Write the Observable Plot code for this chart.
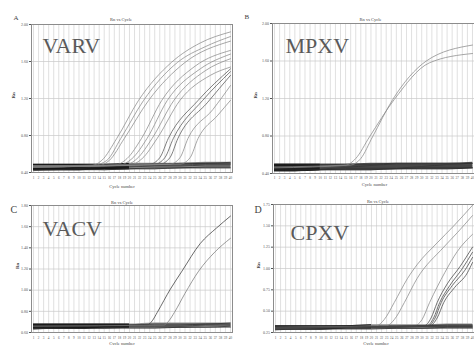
<!DOCTYPE html>
<html><head><meta charset="utf-8">
<script src="https://cdn.jsdelivr.net/npm/d3@7"></script>
<script src="https://cdn.jsdelivr.net/npm/@observablehq/plot@0.6"></script>
<style>
html,body{margin:0;padding:0;background:#fff;}
#wrap{position:relative;width:474px;height:345px;overflow:hidden;background:#fff;}
.panel{position:absolute;}
</style></head><body><div id="wrap"></div>
<script>
// ---------- shared ----------
const cycleTicks = [1,2,3,4,5,6,7,8,9,10,11,12,13,14,15,16,17,18,19,20,21,22,23,24,25,26,27,28,29,30,31,32,33,34,35,36,37,38,39,40];
const baseCycles = [1,5,10,15,20,25,30,35,40];
const titleText = "Rn vs Cycle";
const xLabelText = "Cycle number";
const yLabelText = "Rn";

// ---------- A: VARV ----------
const varvTicks = [0.40,0.80,1.20,1.60,2.00];
const varvBandLo = [0.42,0.42,0.42,0.43,0.43,0.43,0.44,0.44,0.44];
const varvBandHi = [0.49,0.49,0.49,0.49,0.50,0.50,0.50,0.51,0.51];
const varvBaselines = [
  [0.43,0.43,0.44,0.43,0.44,0.45,0.45,0.46,0.46],
  [0.45,0.46,0.45,0.46,0.46,0.47,0.47,0.48,0.48],
  [0.46,0.46,0.47,0.47,0.47,0.48,0.48,0.49,0.49],
  [0.47,0.47,0.47,0.48,0.48,0.48,0.49,0.50,0.50],
  [0.48,0.48,0.48,0.48,0.49,0.49,0.50,0.50,0.51],
  [0.42,0.43,0.43,0.43,0.44,0.44,0.45,0.45,0.45]
];
const varvCurves = [
  [[1,0.46],[12,0.47],[14.5,0.53],[17.5,0.77],[21.8,1.18],[28.3,1.59],[34,1.80],[40,1.92]],
  [[1,0.47],[13,0.48],[15.5,0.53],[18.3,0.77],[22.8,1.18],[29.5,1.59],[35,1.76],[40,1.87]],
  [[1,0.46],[13.5,0.47],[16,0.53],[19,0.77],[23.8,1.18],[31,1.59],[40,1.82]],
  [[1,0.47],[17,0.48],[19.5,0.55],[22.4,0.77],[26.4,1.18],[33,1.55],[40,1.72]],
  [[1,0.46],[18,0.48],[20.5,0.55],[23.5,0.77],[27.5,1.18],[34,1.52],[40,1.68]],
  [[1,0.47],[19,0.48],[21.5,0.55],[24.5,0.77],[28.8,1.18],[35,1.50],[40,1.63]],
  [[1,0.46],[20,0.48],[22.5,0.55],[25.5,0.77],[30,1.18],[36,1.45],[40,1.54]],
  [[1,0.47],[24,0.49],[26,0.56],[27.7,0.77],[33.6,1.18],[40,1.52]],
  [[1,0.46],[25,0.49],[27,0.56],[28.7,0.77],[34.5,1.18],[40,1.49]],
  [[1,0.47],[26,0.49],[28,0.56],[29.6,0.77],[35.5,1.16],[40,1.45]],
  [[1,0.46],[28,0.49],[30,0.56],[31.6,0.77],[36.5,1.08],[40,1.34]],
  [[1,0.47],[30,0.49],[32,0.56],[33.6,0.77],[37.5,1.02],[40,1.18]]
];

// ---------- B: MPXV ----------
const mpxvTicks = [0.40,0.80,1.20,1.60,2.00];
const mpxvBandLo = [0.42,0.42,0.43,0.43,0.43,0.44,0.44,0.44,0.45];
const mpxvBandHi = [0.50,0.50,0.50,0.50,0.51,0.51,0.51,0.51,0.52];
const mpxvBaselines = [
  [0.43,0.43,0.44,0.44,0.44,0.45,0.45,0.45,0.46],
  [0.45,0.45,0.45,0.46,0.46,0.46,0.47,0.47,0.47],
  [0.47,0.46,0.47,0.47,0.48,0.48,0.48,0.49,0.49],
  [0.48,0.48,0.49,0.49,0.49,0.50,0.50,0.50,0.51],
  [0.50,0.50,0.50,0.50,0.50,0.51,0.51,0.51,0.51],
  [0.44,0.44,0.44,0.45,0.45,0.45,0.46,0.46,0.46]
];
const mpxvCurves = [
  [[1,0.47],[15,0.49],[17,0.56],[19.7,0.79],[24.6,1.19],[31.5,1.58],[40,1.68]],
  [[1,0.46],[16,0.49],[18,0.56],[20.3,0.79],[24.3,1.19],[30.9,1.60],[40,1.77]]
];

// ---------- C: VACV ----------
const vacvTicks = [0.60,0.80,1.00,1.20,1.40,1.60,1.80];
const vacvBandLo = [0.63,0.63,0.63,0.64,0.64,0.64,0.64,0.65,0.65];
const vacvBandHi = [0.68,0.68,0.68,0.68,0.68,0.69,0.69,0.69,0.69];
const vacvBaselines = [
  [0.64,0.64,0.64,0.64,0.65,0.65,0.65,0.65,0.66],
  [0.65,0.65,0.66,0.65,0.66,0.66,0.66,0.67,0.67],
  [0.66,0.66,0.66,0.67,0.67,0.67,0.67,0.68,0.68],
  [0.67,0.67,0.67,0.67,0.67,0.68,0.68,0.68,0.69],
  [0.63,0.64,0.64,0.64,0.64,0.64,0.65,0.65,0.65]
];
const vacvCurves = [
  [[1,0.66],[23.5,0.67],[24.5,0.71],[25.5,0.79],[28.1,1.01],[30.4,1.18],[34,1.44],[37.3,1.59],[40,1.70]],
  [[1,0.66],[26.8,0.67],[27.8,0.71],[28.9,0.79],[31,0.97],[33.7,1.18],[36.9,1.36],[40,1.49]]
];

// ---------- D: CPXV ----------
const cpxvTicks = [0.25,0.50,0.75,1.00,1.25,1.50,1.75];
const cpxvBandLo = [0.28,0.28,0.28,0.29,0.29,0.29,0.29,0.30,0.30];
const cpxvBandHi = [0.33,0.33,0.33,0.33,0.34,0.34,0.34,0.35,0.35];
const cpxvBaselines = [
  [0.29,0.29,0.29,0.30,0.30,0.30,0.30,0.31,0.31],
  [0.30,0.31,0.30,0.31,0.31,0.31,0.32,0.32,0.32],
  [0.31,0.31,0.32,0.32,0.32,0.32,0.33,0.33,0.33],
  [0.32,0.32,0.32,0.33,0.33,0.33,0.33,0.34,0.34],
  [0.28,0.29,0.29,0.29,0.29,0.30,0.30,0.30,0.30]
];
const cpxvCurves = [
  [[1,0.31],[21,0.33],[22.5,0.40],[24.5,0.60],[27.1,0.88],[29.1,1.05],[33,1.30],[36.3,1.50],[40,1.74]],
  [[1,0.30],[23,0.33],[24.5,0.40],[26.5,0.60],[29,0.88],[34.3,1.25],[37,1.42],[40,1.62]],
  [[1,0.31],[28.5,0.33],[30,0.40],[31.5,0.60],[34.5,0.95],[37,1.20],[40,1.40]],
  [[1,0.30],[30.5,0.33],[31.8,0.42],[33,0.60],[35,0.82],[37.5,1.02],[40,1.25]],
  [[1,0.31],[31,0.33],[32.3,0.42],[33.5,0.60],[35.5,0.80],[38,1.00],[40,1.19]],
  [[1,0.30],[31.3,0.33],[32.6,0.42],[33.8,0.60],[36,0.80],[38.5,0.98],[40,1.13]],
  [[1,0.31],[31.6,0.33],[33,0.42],[34.3,0.60],[36.5,0.78],[39,0.95],[40,1.07]]
];

// ---------- drawing ----------
const FONT = "Liberation Serif, Times New Roman, serif";
function panel(cfg, data) {
  const {ticks, bandLo, bandHi, darkUntil, lightFill, baselines, curves, curveColors, name, letter} = data;
  const band = baseCycles.map((c, j) => ({c, lo: bandLo[j], hi: bandHi[j]}));
  const baseRows = baselines.flatMap((arr, i) => arr.map((v, j) => ({c: baseCycles[j], v, id: i})));
  const curveRows = curves.flatMap((pts, i) => pts.map(([c, v]) => ({c, v, id: i, col: curveColors[i]})));
  const plot = Plot.plot({
    width: cfg.width, height: cfg.height,
    marginLeft: cfg.mL, marginRight: cfg.mR, marginTop: cfg.mT, marginBottom: cfg.mB,
    style: {background: "transparent", fontFamily: FONT, color: "#555", maxWidth: "none", overflow: "visible"},
    x: {domain: [0.6, 40.4]},
    y: {domain: [ticks[0], ticks[ticks.length - 1]]},
    color: {type: "identity"},
    marks: [
      Plot.gridX({ticks: cycleTicks, stroke: "#d2d2d2", strokeOpacity: 1, strokeWidth: 0.7}),
      Plot.gridY({ticks: ticks, stroke: "#c8c8c8", strokeOpacity: 1, strokeWidth: 0.7}),
      Plot.areaY(band, {x: "c", y1: "lo", y2: "hi", fill: lightFill, curve: "monotone-x"}),
      Plot.areaY(band.filter(d => d.c <= darkUntil), {x: "c", y1: "lo", y2: "hi", fill: "#151515", curve: "monotone-x"}),
      Plot.line(baseRows, {x: "c", y: "v", z: "id", stroke: "#2a2a2a", strokeWidth: 0.7, curve: "monotone-x"}),
      Plot.line(curveRows, {x: "c", y: "v", z: "id", stroke: "col", strokeWidth: 0.75, curve: "monotone-x", clip: true}),
      Plot.frame({stroke: "#8c8c8c", strokeWidth: 1}),
      Plot.axisY({ticks: ticks, tickFormat: d => d.toFixed(2), tickSize: 2, tickPadding: 1.5, fontSize: 4, label: null}),
      Plot.axisX({ticks: cycleTicks, tickSize: 0, tickPadding: cfg.xPad, fontSize: 3.3, label: null}),
      Plot.text([titleText], {text: d => d, frameAnchor: "top", dx: cfg.titleDx, dy: cfg.titleDy, fontSize: 4.5, fill: "#444"}),
      Plot.text([xLabelText], {text: d => d, frameAnchor: "bottom", dx: cfg.xlabDx, dy: cfg.xlabDy, fontSize: 4.5, fill: "#444"}),
      Plot.text([yLabelText], {text: d => d, frameAnchor: "left", dx: cfg.rnDx, rotate: -90, fontSize: 5, fontWeight: "bold", fill: "#444"}),
      Plot.text([letter], {text: d => d, frameAnchor: "top-left", dx: cfg.letterDx, dy: cfg.letterDy, fontSize: cfg.letterSize, fill: "#444"}),
      Plot.text([name], {text: d => d, frameAnchor: "top-left", textAnchor: "start", lineAnchor: "top", dx: cfg.nameDx, dy: cfg.nameDy, fontSize: 22, fill: "#5a5a5a"})
    ]
  });
  const div = document.createElement("div");
  div.className = "panel";
  div.style.left = cfg.left + "px";
  div.style.top = cfg.top + "px";
  div.style.width = cfg.width + "px";
  div.style.height = cfg.height + "px";
  div.appendChild(plot);
  document.getElementById("wrap").appendChild(div);
}

const grayC = "#8a8a8a", darkC = "#555";
panel({left: 0, top: 0, width: 240, height: 195, mL: 31, mR: 8, mT: 24, mB: 23, xPad: 4,
       titleDx: -11, titleDy: -7, xlabDx: -10, xlabDy: 15, rnDx: -18, letterDx: -18, letterDy: -9, letterSize: 7, nameDx: 11, nameDy: 13},
      {ticks: varvTicks, bandLo: varvBandLo, bandHi: varvBandHi, darkUntil: 20, lightFill: "#8f8f8f", baselines: varvBaselines, curves: varvCurves,
       curveColors: [grayC,grayC,grayC,grayC,grayC,grayC,grayC,darkC,darkC,darkC,grayC,grayC], name: "VARV", letter: "A"});
panel({left: 237, top: 0, width: 245, height: 195, mL: 35, mR: 8, mT: 23, mB: 22, xPad: 3,
       titleDx: -3, titleDy: -6, xlabDx: 1, xlabDy: 12, rnDx: -17, letterDx: -28, letterDy: -9, letterSize: 7, nameDx: 13, nameDy: 14},
      {ticks: mpxvTicks, bandLo: mpxvBandLo, bandHi: mpxvBandHi, darkUntil: 12, lightFill: "#5a5a5a", baselines: mpxvBaselines, curves: mpxvCurves,
       curveColors: [grayC, grayC], name: "MPXV", letter: "B"});
panel({left: 0, top: 172, width: 240, height: 180, mL: 31, mR: 8, mT: 33, mB: 20, xPad: 4,
       titleDx: -10, titleDy: -5, xlabDx: -10, xlabDy: 12, rnDx: -14, letterDx: -21, letterDy: 0, letterSize: 10, nameDx: 11, nameDy: 15},
      {ticks: vacvTicks, bandLo: vacvBandLo, bandHi: vacvBandHi, darkUntil: 20, lightFill: "#8f8f8f", baselines: vacvBaselines, curves: vacvCurves,
       curveColors: ["#3a3a3a", "#7a7a7a"], name: "VACV", letter: "C"});
panel({left: 237, top: 172, width: 245, height: 180, mL: 36, mR: 8, mT: 32, mB: 20, xPad: 4,
       titleDx: 4, titleDy: -5, xlabDx: 2, xlabDy: 12, rnDx: -15, letterDx: -19, letterDy: 1, letterSize: 10, nameDx: 17, nameDy: 20},
      {ticks: cpxvTicks, bandLo: cpxvBandLo, bandHi: cpxvBandHi, darkUntil: 20, lightFill: "#8f8f8f", baselines: cpxvBaselines, curves: cpxvCurves,
       curveColors: [grayC, grayC, grayC, "#444", "#444", "#444", "#444"], name: "CPXV", letter: "D"});
</script></body></html>
